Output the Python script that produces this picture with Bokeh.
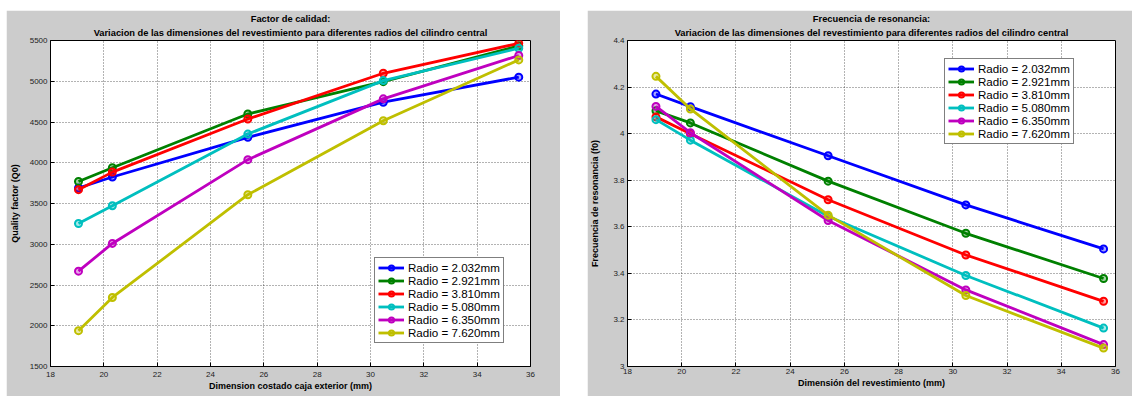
from bokeh.plotting import figure
from bokeh.models import (Range1d, FixedTicker, Legend, LegendItem, Title, Label,
                          Spacer, CustomJSTickFormatter)
from bokeh.layouts import row, column
from bokeh.embed import file_html
from bokeh.resources import INLINE

# Cavity side dimension (mm)
dimension_mm = [19.05, 20.32, 25.40, 30.48, 35.56]

radios = ["2.032", "2.921", "3.810", "5.080", "6.350", "7.620"]
colors = ["#0000ff", "#008000", "#ff0000", "#00bfbf", "#bf00bf", "#bfbf00"]

# Quality factor Q0 per central cylinder radius
q_r2032 = [3690, 3825, 4312, 4743, 5050]
q_r2921 = [3770, 3938, 4598, 4995, 5435]
q_r3810 = [3670, 3885, 4537, 5098, 5465]
q_r5080 = [3255, 3472, 4352, 5008, 5405]
q_r6350 = [2670, 3010, 4038, 4784, 5316]
q_r7620 = [1940, 2347, 3608, 4516, 5262]

# Resonance frequency f0 (Hz) per central cylinder radius
f_r2032 = [4.170e9, 4.116e9, 3.905e9, 3.694e9, 3.505e9]
f_r2921 = [4.098e9, 4.046e9, 3.796e9, 3.572e9, 3.378e9]
f_r3810 = [4.072e9, 4.000e9, 3.716e9, 3.479e9, 3.280e9]
f_r5080 = [4.060e9, 3.972e9, 3.645e9, 3.391e9, 3.165e9]
f_r6350 = [4.117e9, 4.004e9, 3.627e9, 3.329e9, 3.094e9]
f_r7620 = [4.246e9, 4.106e9, 3.650e9, 3.305e9, 3.079e9]

x_ticks = [18, 20, 22, 24, 26, 28, 30, 32, 34, 36]
q_ticks = [1500, 2000, 2500, 3000, 3500, 4000, 4500, 5000, 5500]
f_ticks = [3.0e9, 3.2e9, 3.4e9, 3.6e9, 3.8e9, 4.0e9, 4.2e9, 4.4e9]

q_series = [q_r2032, q_r2921, q_r3810, q_r5080, q_r6350, q_r7620]
f_series = [f_r2032, f_r2921, f_r3810, f_r5080, f_r6350, f_r7620]

FONT = "Liberation Sans"
PANEL = "#cccccc"


def make_panel(width, height, y_range, y_ticks, series, borders, titles,
               xlabel, ylabel, legend_loc, ylabel_standoff, xlabel_standoffs):
    p = figure(width=width, height=height, x_range=Range1d(18, 36),
               y_range=y_range, output_backend="svg", toolbar_location=None,
               background_fill_color="white", border_fill_color=PANEL,
               min_border_left=borders[0], min_border_right=borders[1],
               min_border_top=borders[2], min_border_bottom=borders[3])
    p.outline_line_color = "black"

    # two-line title: second line added first so it sits nearest the frame
    p.add_layout(Title(text=titles[1], align="center", text_font=FONT,
                       text_font_size="9.3px", text_font_style="bold",
                       text_color="black", standoff=5), "above")
    p.add_layout(Title(text=titles[0], align="center", text_font=FONT,
                       text_font_size="9.3px", text_font_style="bold",
                       text_color="black", standoff=0), "above")

    p.xaxis.ticker = FixedTicker(ticks=x_ticks)
    p.yaxis.ticker = FixedTicker(ticks=y_ticks)
    for ax in (p.xaxis[0], p.yaxis[0]):
        ax.axis_line_color = "black"
        ax.major_tick_in = 4
        ax.major_tick_out = 0
        ax.minor_tick_line_color = None
        ax.major_label_text_font = FONT
        ax.major_label_text_font_size = "8px"
        ax.major_label_text_color = "#222222"
        ax.axis_label_text_font = FONT
        ax.axis_label_text_font_size = "9px"
        ax.axis_label_text_font_style = "bold"
        ax.axis_label_text_color = "black"
    p.xaxis.axis_label = xlabel
    p.yaxis.axis_label = ylabel
    p.xaxis.major_label_standoff = xlabel_standoffs[0]
    p.xaxis.axis_label_standoff = xlabel_standoffs[1]
    p.yaxis.major_label_standoff = 3
    p.yaxis.axis_label_standoff = ylabel_standoff

    p.grid.grid_line_color = "black"
    p.grid.grid_line_alpha = 0.6
    p.grid.grid_line_dash = "1 2"
    p.xgrid.ticker = FixedTicker(ticks=x_ticks)
    p.ygrid.ticker = FixedTicker(ticks=y_ticks)

    items = []
    for r, c, ys in zip(radios, colors, series):
        ln = p.line(dimension_mm, ys, line_color=c, line_width=2.8)
        mk = p.scatter(dimension_mm, ys, marker="circle", size=7,
                       line_color=c, line_width=2, fill_color=c, fill_alpha=0.35)
        items.append(LegendItem(label="Radio = %smm" % r, renderers=[ln, mk]))

    legend = Legend(items=items, location=legend_loc, label_text_font=FONT,
                    label_text_font_size="11.6px", label_text_color="black",
                    label_height=13, glyph_height=13, glyph_width=26,
                    label_standoff=4, spacing=0, padding=3, margin=0,
                    border_line_color="black", border_line_width=1,
                    background_fill_color="white", background_fill_alpha=1)
    p.add_layout(legend)
    return p


p1 = make_panel(554, 386, Range1d(1500, 5500), q_ticks, q_series,
                (42, 30, 30, 30),
                ["Factor de calidad:",
                 "Variacion de las dimensiones del revestimiento para diferentes radios del cilindro central"],
                "Dimension costado caja exterior (mm)", "Quality factor (Q0)",
                (324, 23), 7, (5, 1))

p2 = make_panel(545, 386, Range1d(3.0e9, 4.4e9), f_ticks, f_series,
                (38, 17, 30, 24),
                ["Frecuencia de resonancia:",
                 "Variacion de las dimensiones del revestimiento para diferentes radios del cilindro central"],
                "Dimensión del revestimiento (mm)", "Frecuencia de resonancia (f0)",
                (317, 222), 10, (2, 1))
p2.yaxis.formatter = CustomJSTickFormatter(
    code="return String(Math.round(tick / 1e8) / 10);")
p2.add_layout(Label(x=18, y=4.4e9, x_offset=6, y_offset=1, text="× 10⁹",
                    text_font=FONT, text_font_size="7px", text_color="#222222",
                    text_baseline="bottom"))

layout = column(Spacer(height=10),
                row(Spacer(width=6), p1, Spacer(width=27), p2))

open("out.html", "w").write(file_html(layout, INLINE))
